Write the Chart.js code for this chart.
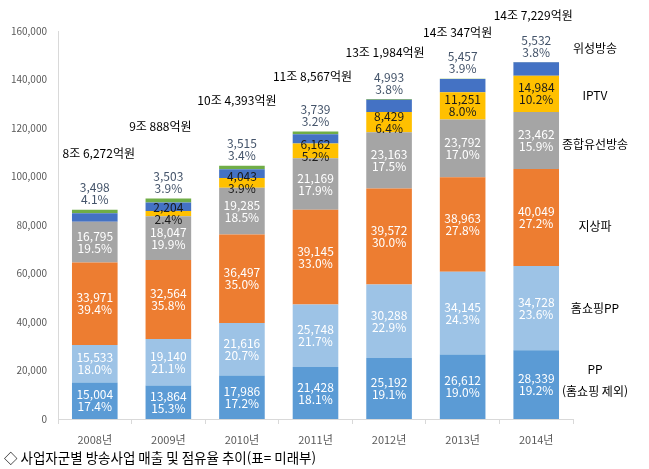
<!DOCTYPE html>
<html lang="ko">
<head>
<meta charset="utf-8">
<title>사업자군별 방송사업 매출 및 점유율 추이</title>
<script src="https://cdn.jsdelivr.net/npm/chart.js@4.4.1/dist/chart.umd.min.js"></script>
<style>
  html, body { margin: 0; padding: 0; background: #fff; }
  #wrap { position: relative; width: 649px; height: 469px; }
</style>
</head>
<body>
<div id="wrap"><canvas id="chart" width="649" height="469"></canvas></div>
<script>
"use strict";

// ── data (억원, share of total) ──────────────────────────────────────────────
const years = ["2008년", "2009년", "2010년", "2011년", "2012년", "2013년", "2014년"];

const ppValues           = [15004, 13864, 17986, 21428, 25192, 26612, 28339];
const ppShares           = ["17.4%", "15.3%", "17.2%", "18.1%", "19.1%", "19.0%", "19.2%"];
const homeShopValues     = [15533, 19140, 21616, 25748, 30288, 34145, 34728];
const homeShopShares     = ["18.0%", "21.1%", "20.7%", "21.7%", "22.9%", "24.3%", "23.6%"];
const terrestrialValues  = [33971, 32564, 36497, 39145, 39572, 38963, 40049];
const terrestrialShares  = ["39.4%", "35.8%", "35.0%", "33.0%", "30.0%", "27.8%", "27.2%"];
const cableValues        = [16795, 18047, 19285, 21169, 23163, 23792, 23462];
const cableShares        = ["19.5%", "19.9%", "18.5%", "17.9%", "17.5%", "17.0%", "15.9%"];
const iptvValues         = [0, 2204, 4043, 6162, 8429, 11251, 14984];
const iptvShares         = [null, "2.4%", "3.9%", "5.2%", "6.4%", "8.0%", "10.2%"];
const satelliteValues    = [3498, 3503, 3515, 3739, 4993, 5457, 5532];
const satelliteShares    = ["4.1%", "3.9%", "3.4%", "3.2%", "3.8%", "3.9%", "3.8%"];
const otherValues        = [1471, 1566, 1451, 1176, 347, 127, 135];

const totalLabels = ["8조 6,272억원", "9조 888억원", "10조 4,393억원", "11조 8,567억원",
                     "13조 1,984억원", "14조 347억원", "14조 7,229억원"];

const yTicks = [0, 20000, 40000, 60000, 80000, 100000, 120000, 140000, 160000];

const FONT = '"Noto Sans CJK KR", "Noto Sans", sans-serif';

// ── helpers ───────────────────────────────────────────────────────────────────
function fmt(n) {
  return n.toLocaleString("en-US");
}

function series(label, data, shares, color, textColor, place) {
  return {
    label, data, backgroundColor: color, borderWidth: 0,
    shares, textColor, place,
  };
}

// ── plugin: segment labels, totals, side names, caption ─────────────────────
const lifts  = [56, 72, 65, 55, 47, 46, 47];
const shifts = [4, -8, -5, -3, -4, -5, -3];

const sideNames = [
  { text: ["위성방송"], v: 153000 },
  { text: ["IPTV"], v: 133600 },
  { text: ["종합유선방송"], v: 113400 },
  { text: ["지상파"], v: 79600 },
  { text: ["홈쇼핑PP"], v: 45400 },
  { text: ["PP", "(홈쇼핑 제외)"], v: 20600 },
];

const labelPlugin = {
  id: "labels",
  afterDatasetsDraw(chart) {
    const ctx = chart.ctx;
    const y = chart.scales.y;
    const topMeta = chart.getDatasetMeta(chart.data.datasets.length - 1);
    ctx.save();
    ctx.textAlign = "center";
    ctx.textBaseline = "middle";
    ctx.font = "12px " + FONT;

    chart.data.datasets.forEach((ds, di) => {
      if (!ds.shares) return;
      const meta = chart.getDatasetMeta(di);
      meta.data.forEach((bar, i) => {
        const share = ds.shares[i];
        if (!share) return;
        const value = fmt(ds.data[i]);
        let cy;
        if (ds.place === "above") {
          cy = topMeta.data[i].y - 16;
        } else {
          cy = (bar.y + bar.base) / 2;
        }
        ctx.fillStyle = ds.textColor;
        ctx.fillText(value, bar.x, cy - 6);
        ctx.fillText(share, bar.x, cy + 6);
      });
    });

    // totals above each bar
    ctx.fillStyle = "#000";
    ctx.font = "12px " + FONT;
    topMeta.data.forEach((bar, i) => {
      ctx.fillText(totalLabels[i], bar.x + shifts[i], bar.y - lifts[i]);
    });

    // series names on the right
    sideNames.forEach(n => {
      const py = y.getPixelForValue(n.v);
      n.text.forEach((t, k) => ctx.fillText(t, 595, py + k * 22));
    });

    // caption
    ctx.textAlign = "left";
    ctx.font = "13.5px " + FONT;
    ctx.fillText("◇ 사업자군별 방송사업 매출 및 점유율 추이(표= 미래부)", 4, 458);
    ctx.restore();
  },
};

// ── chart ─────────────────────────────────────────────────────────────────────
const datasets = [
  series("PP(홈쇼핑 제외)", ppValues, ppShares, "#5B9BD5", "#FFFFFF", "mid"),
  series("홈쇼핑PP", homeShopValues, homeShopShares, "#9DC3E6", "#FFFFFF", "mid"),
  series("지상파", terrestrialValues, terrestrialShares, "#ED7D31", "#FFFFFF", "mid"),
  series("종합유선방송", cableValues, cableShares, "#A5A5A5", "#FFFFFF", "mid"),
  series("IPTV", iptvValues, iptvShares, "#FFC000", "#1A1A1A", "mid"),
  series("위성방송", satelliteValues, satelliteShares, "#4472C4", "#44546A", "above"),
  series("기타", otherValues, null, "#70AD47", "#000", "none"),
];

new Chart(document.getElementById("chart"), {
  type: "bar",
  data: { labels: years, datasets },
  options: {
    responsive: false,
    animation: false,
    devicePixelRatio: 1,
    layout: { padding: { top: 31, right: 76, left: 0, bottom: 0 } },
    plugins: { legend: { display: false }, tooltip: { enabled: false } },
    datasets: { bar: { categoryPercentage: 1, barPercentage: 0.62 } },
    scales: {
      x: {
        stacked: true,
        grid: {
          offset: true, drawOnChartArea: false, drawTicks: true,
          tickLength: 5, color: "#D9D9D9",
        },
        border: { color: "#D9D9D9" },
        ticks: { color: "#595959", font: { size: 11, family: FONT }, padding: 9 },
        afterFit(scale) { scale.height = 50; },
      },
      y: {
        stacked: true,
        min: 0, max: 160000,
        afterBuildTicks(scale) { scale.ticks = yTicks.map(v => ({ value: v })); },
        grid: { display: false, drawTicks: false },
        border: { color: "#D9D9D9" },
        ticks: {
          color: "#595959", font: { size: 10, family: FONT }, padding: 11,
          callback: v => fmt(v),
        },
        afterFit(scale) { scale.width = 58; },
      },
    },
  },
  plugins: [labelPlugin],
});
</script>
</body>
</html>
